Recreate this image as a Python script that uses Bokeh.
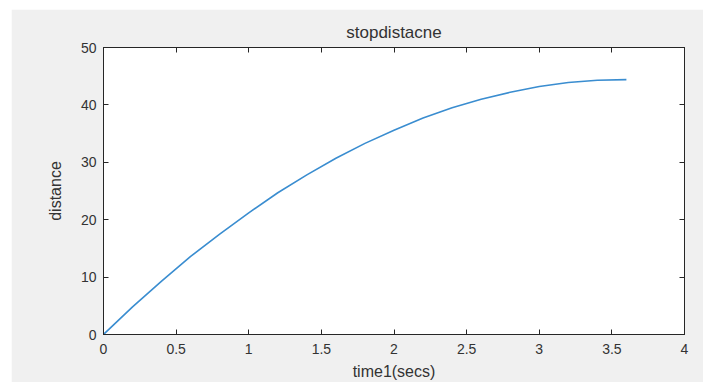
from bokeh.plotting import figure
from bokeh.models import LinearAxis, FixedTicker, Range1d
from bokeh.embed import file_html
from bokeh.resources import INLINE

time_s = [0.0, 0.2, 0.4, 0.6, 0.8, 1.0, 1.2, 1.4, 1.6, 1.8, 2.0, 2.2, 2.4, 2.6, 2.8, 3.0, 3.2, 3.4, 3.6]
distance = [0.0, 4.8, 9.3, 13.6, 17.5, 21.2, 24.7, 27.8, 30.7, 33.3, 35.6, 37.7, 39.5, 41.0, 42.2, 43.2, 43.9, 44.3, 44.4]
x_ticks = [0, 0.5, 1, 1.5, 2, 2.5, 3, 3.5, 4]
y_ticks = [0, 10, 20, 30, 40, 50]

FONT = "Liberation Sans"
INK = "#333333"

p = figure(width=692, height=373, output_backend="svg", toolbar_location=None,
           x_range=Range1d(0, 4), y_range=Range1d(0, 50),
           min_border_left=92, min_border_right=19, min_border_top=38, min_border_bottom=48,
           x_axis_location=None, y_axis_location=None)
p.margin = (9, 0, 0, 11)
p.background_fill_color = "white"
p.border_fill_color = "#f0f0f0"
p.outline_line_color = "#262626"
p.outline_line_width = 1
p.grid.visible = False

p.title.text = "stopdistacne"
p.title.align = "center"
p.title.text_font = FONT
p.title.text_font_size = "17px"
p.title.text_font_style = "normal"
p.title.text_color = INK
p.title.standoff = 11

def style(ax, labels=True):
    ax.axis_line_color = "#262626"
    ax.major_tick_line_color = "#262626"
    ax.major_tick_in = 5
    ax.major_tick_out = 0
    ax.minor_tick_line_color = None
    ax.major_label_text_font = FONT
    ax.major_label_text_color = INK
    if labels:
        ax.major_label_text_font_size = "14px"
    else:
        ax.major_label_text_font_size = "1px"
        ax.major_label_text_alpha = 0
        ax.major_label_standoff = 0
    ax.axis_label_text_font = FONT
    ax.axis_label_text_font_size = "16px"
    ax.axis_label_text_font_style = "normal"
    ax.axis_label_text_color = INK

xb = LinearAxis(ticker=FixedTicker(ticks=x_ticks), axis_label="time1(secs)")
style(xb)
xb.major_label_standoff = 9
xb.axis_label_standoff = 6
p.add_layout(xb, "below")

yl = LinearAxis(ticker=FixedTicker(ticks=y_ticks), axis_label="distance")
style(yl)
yl.major_label_standoff = 7
yl.axis_label_standoff = 14
p.add_layout(yl, "left")

xt = LinearAxis(ticker=FixedTicker(ticks=x_ticks))
style(xt, labels=False)
p.add_layout(xt, "above")

yr = LinearAxis(ticker=FixedTicker(ticks=y_ticks))
style(yr, labels=False)
p.add_layout(yr, "right")

p.line(time_s, distance, line_color="#3a8dd0", line_width=1.6)

open("out.html", "w").write(file_html(p, INLINE))
